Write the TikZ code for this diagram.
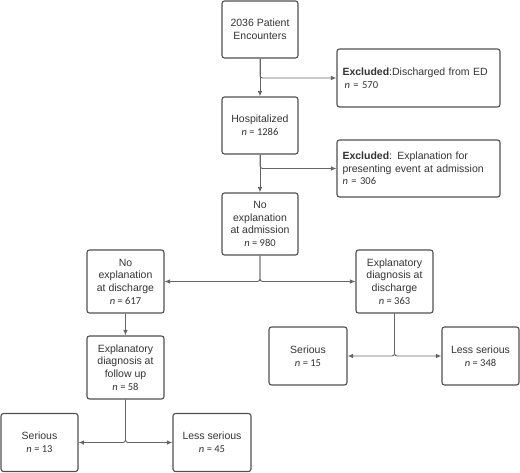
\documentclass[tikz,border=0pt]{standalone}
\usepackage{fontspec}
\setmainfont{Liberation Sans}
\newfontfamily\nfont{Carlito}
\usetikzlibrary{arrows.meta}
\definecolor{boxc}{HTML}{505050}
\definecolor{linec}{HTML}{666666}
\definecolor{txt}{HTML}{333333}
\newcommand{\nn}[1]{{\nfont\textit{n} = #1}}
\begin{document}
\begin{tikzpicture}[x=1pt,y=-1pt,
  box/.style={draw=boxc, line width=1.1pt, rounded corners=2.5pt, align=center,
    inner sep=1pt, font=\fontsize{10.5}{12.7}\selectfont, text=txt,
    minimum width=76pt, minimum height=57pt},
  exbox/.style={box, align=left, text width=152pt, inner xsep=5.5pt, minimum width=163pt},
  arr/.style={draw=linec, line width=0.9pt, -{Latex[length=5.5pt,width=4.5pt]}, rounded corners=2.5pt}
]
\useasboundingbox (0,0) rectangle (520,472);
\node[box] (enc) at (260,29.5) {2036 Patient\\Encounters};
\node[exbox, minimum height=58pt] (ex1) at (418.5,78) {\textbf{Excluded}:Discharged from ED\\\hspace*{2pt}\nn{570}};
\node[box] (hosp) at (260,125.5) {Hospitalized\\\nn{1286}};
\node[exbox] (ex2) at (418.5,168.5) {\textbf{Excluded}: Explanation for\\presenting event at admission\\\nn{306}};
\node[box, minimum height=62pt] (noadm) at (260,224) {No\\explanation\\at admission\\\nn{980}};
\node[box, minimum width=77pt, minimum height=63pt] (nodis) at (125.5,281.5) {No\\explanation\\at discharge\\\nn{617}};
\node[box, minimum width=77pt, minimum height=63pt] (exdis) at (394.5,281.5) {Explanatory\\diagnosis at\\discharge\\\nn{363}};
\node[box, minimum width=77pt, minimum height=63pt] (fup) at (125.5,367.5) {Explanatory\\diagnosis at\\follow up\\\nn{58}};
\node[box, minimum width=78pt, minimum height=58pt] (ser15) at (308,356) {Serious\\\nn{15}};
\node[box, minimum width=77pt, minimum height=58pt] (les348) at (480.5,356) {Less serious\\\nn{348}};
\node[box, minimum width=77pt, minimum height=58pt] (ser13) at (39.5,442.5) {Serious\\\nn{13}};
\node[box, minimum width=78pt, minimum height=58pt] (les45) at (212,442.5) {Less serious\\\nn{45}};

\draw[arr] (enc) -- (hosp);
\draw[arr] (enc.south) |- (ex1.west);
\draw[arr] (hosp) -- (noadm);
\draw[arr] (hosp.south) |- (ex2.west);
\draw[arr] (noadm.south) |- (nodis.east);
\draw[arr] (noadm.south) |- (exdis.west);
\draw[arr] (nodis) -- (fup);
\draw[arr] (exdis.south) |- (ser15.east);
\draw[arr] (exdis.south) |- (les348.west);
\draw[arr] (fup.south) |- (ser13.east);
\draw[arr] (fup.south) |- (les45.west);
\end{tikzpicture}
\end{document}
